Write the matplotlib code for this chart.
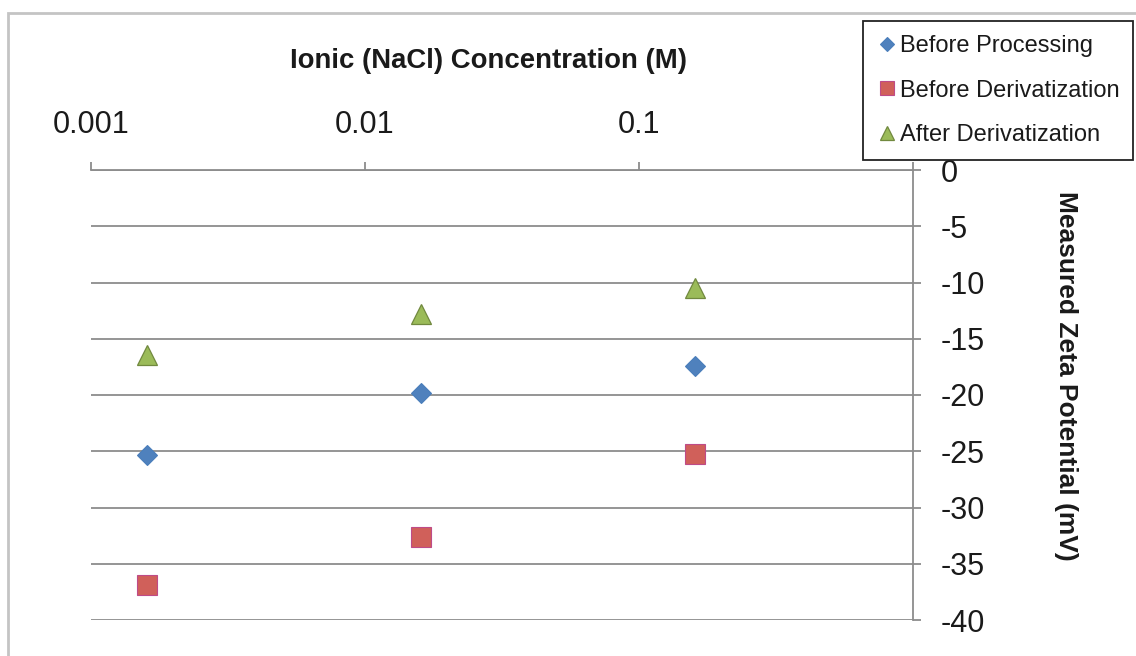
import matplotlib
matplotlib.use("Agg")
import matplotlib.pyplot as plt
from matplotlib.patches import Rectangle
from matplotlib.ticker import FixedLocator, FuncFormatter, NullLocator

plt.rcParams['font.family'] = ['Liberation Sans', 'DejaVu Sans']
plt.rcParams['axes.unicode_minus'] = False

# Zeta potential vs. NaCl concentration
concentration = [0.0016, 0.016, 0.16]
before_processing = [-25.3, -19.8, -17.4]
before_derivatization = [-36.9, -32.6, -25.2]
after_derivatization = [-16.4, -12.8, -10.5]

x_ticks = [0.001, 0.01, 0.1, 1]
x_tick_labels = ['0.001', '0.01', '0.1', '']  # "1" sits under the legend box
y_ticks = [0, -5, -10, -15, -20, -25, -30, -35, -40]

W, H = 1136, 656
fig = plt.figure(figsize=(W / 100, H / 100), dpi=100)
ax = fig.add_axes([91 / W, 1 - 620 / H, 822 / W, 450 / H])

ax.set_xscale('log')
ax.set_xlim(0.001, 1)
ax.set_ylim(-40, 0)

axis_gray = '#8c8c8c'
ax.yaxis.grid(True, color=axis_gray, linewidth=1.3)
ax.set_axisbelow(True)

ax.plot(concentration, before_processing, linestyle='none', marker='D', markersize=10.5,
        color='#4F81BD', markeredgecolor='#4A7EBB', markeredgewidth=0.8,
        label='Before Processing', zorder=3)
ax.plot(concentration, before_derivatization, linestyle='none', marker='s', markersize=14.5,
        color='#D0605A', markeredgecolor='#BE4B88', markeredgewidth=0.8,
        label='Before Derivatization', zorder=3)
ax.plot(concentration, after_derivatization, linestyle='none', marker='^', markersize=14.5,
        color='#9BBB59', markeredgecolor='#71893F', markeredgewidth=0.9,
        label='After Derivatization', zorder=3)

# axis lines on top and right, Excel style
for side in ('left', 'bottom'):
    ax.spines[side].set_visible(False)
for side in ('top', 'right'):
    ax.spines[side].set_color(axis_gray)
    ax.spines[side].set_linewidth(1.3)

ax.xaxis.tick_top()
ax.yaxis.tick_right()
ax.xaxis.set_major_locator(FixedLocator(x_ticks))
ax.xaxis.set_minor_locator(NullLocator())
ax.xaxis.set_major_formatter(FuncFormatter(lambda v, p: x_tick_labels[p]))
ax.yaxis.set_major_locator(FixedLocator(y_ticks))
ax.tick_params(axis='x', direction='out', length=5.5, width=1.3, color=axis_gray,
               pad=16, labelsize=22, labelcolor='#1a1a1a')
ax.tick_params(axis='y', direction='out', length=6, width=1.3, color=axis_gray,
               pad=14, labelsize=22, labelcolor='#1a1a1a')

ax.xaxis.set_label_position('top')
ax.set_xlabel('Ionic (NaCl) Concentration (M)', fontsize=19.8, fontweight='bold',
              color='#1a1a1a')
ax.xaxis.set_label_coords(0.484, 1.242)
ax.xaxis.label.set_va('center')

ax.yaxis.set_label_position('right')
ax.set_ylabel('Measured Zeta Potential (mV)', fontsize=19, fontweight='bold',
              color='#1a1a1a')
ax.yaxis.set_label_coords(1.186, 0.542)
ax.yaxis.label.set(rotation=270, va='center', ha='center', rotation_mode='anchor')

# chart area frame
fig.add_artist(Rectangle((8 / W, -0.1), 1.2, 1.1 - 13 / H, transform=fig.transFigure,
                         fill=False, edgecolor='#c4c4c4', linewidth=2, clip_on=False))

leg = fig.legend(loc='upper left', bbox_to_anchor=(863 / W, 1 - 21 / H),
                 fontsize=17, frameon=True, fancybox=False, framealpha=1,
                 markerscale=0.72, handlelength=0.8, handletextpad=0.15,
                 borderpad=0.6, labelspacing=0.95, borderaxespad=0)
leg.get_frame().set_edgecolor('#222222')
leg.get_frame().set_linewidth(1.3)
for t in leg.get_texts():
    t.set_color('#1a1a1a')

fig.savefig('out.png', dpi=100, facecolor='white')
